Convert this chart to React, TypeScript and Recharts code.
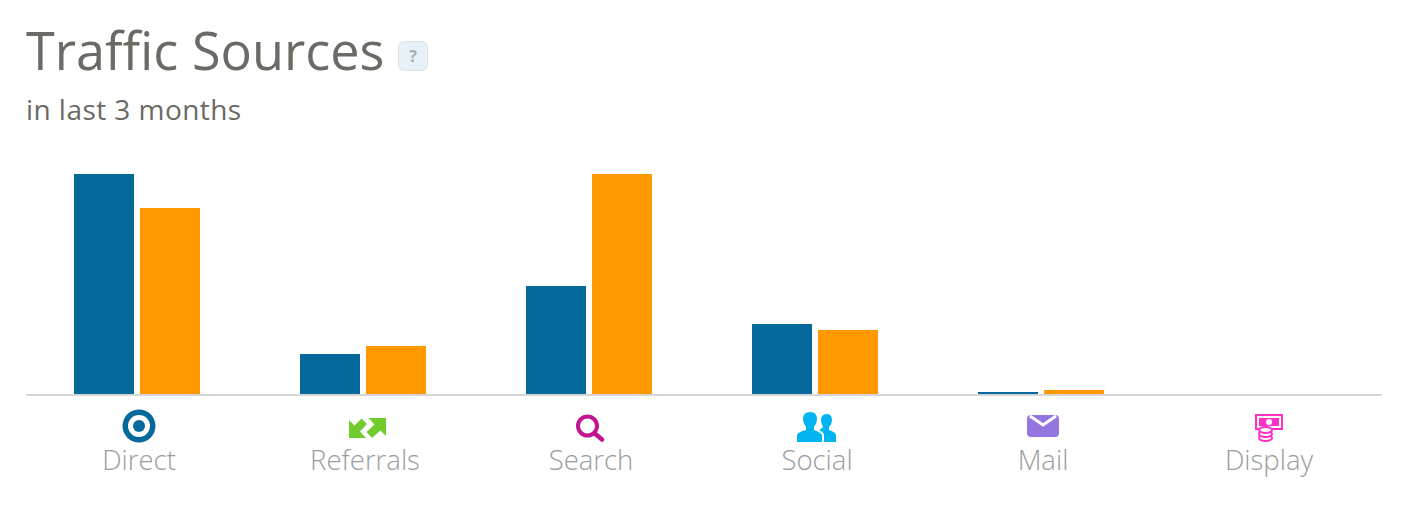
import { BarChart, Bar, XAxis, YAxis, Rectangle } from 'recharts';

const CATEGORIES = ['Direct', 'Referrals', 'Search', 'Social', 'Mail', 'Display'];
const BLUE_VALUES = [100, 18.6, 49.3, 32.1, 1.4, 0];
const ORANGE_VALUES = [84.6, 22.2, 100, 29.4, 2.3, 0];

const data = CATEGORIES.map((name, i) => ({
  name,
  blue: BLUE_VALUES[i],
  orange: ORANGE_VALUES[i],
}));

// little glyphs above the labels, drawn around the tick centre
const Icon = ({ name }: { name: string }) => {
  if (name === 'Direct') {
    return (
      <g>
        <circle cx={0} cy={31} r={16.5} fill="#056a9b" />
        <circle cx={0} cy={31} r={11} fill="#fff" />
        <circle cx={0} cy={31} r={6} fill="#056a9b" />
      </g>
    );
  }
  if (name === 'Referrals') {
    return (
      <g fill="#72cc2e">
        <path d="M-16 43 L-16 25 L-10.5 30.5 L-3.5 23.5 L2 29 L-5 36.5 L1 43 Z" />
        <path d="M21 23 L21 41 L15.5 35.5 L7 43 L1.5 37 L9.5 29.5 L3.5 23 Z" />
      </g>
    );
  }
  if (name === 'Search') {
    return (
      <g fill="none" stroke="#c0168f">
        <circle cx={-3.5} cy={31} r={9.5} strokeWidth={4} />
        <path d="M4.5 39 L11 44.5" strokeWidth={4.5} strokeLinecap="round" />
      </g>
    );
  }
  if (name === 'Social') {
    return (
      <g fill="#00b4f0">
        <path d="M-20 47 L-20 40 Q-19 37 -11 35 L-11 32 Q-14 28 -14 24 Q-14 17 -7 17 Q0 17 0 24 Q0 28 -3 32 L-3 35 Q3 37 5 40 L5 47 Z" />
        <path d="M7 47 L7 39 Q5 36 2 35 Q4 34 6 32 Q4 28 4 25 Q4 19 10 19 Q15 19 15 25 Q15 29 12 32 L12 35 Q18 37 19 40 L19 47 Z" />
      </g>
    );
  }
  if (name === 'Mail') {
    return (
      <g>
        <rect x={-16} y={20} width={32} height={22} rx={4} fill="#9575e0" />
        <path d="M-13 21 L0 30 L13 21" fill="none" stroke="#fff" strokeWidth={3} />
      </g>
    );
  }
  return (
    <g>
      <rect x={-13} y={20} width={26} height={14} fill="#fff" stroke="#ff2fc8" strokeWidth={2} />
      <rect x={-10} y={23} width={20} height={8} fill="#ff2fc8" />
      <circle cx={0} cy={27} r={3} fill="#fff" />
      <ellipse cx={-3.5} cy={43} rx={6.5} ry={3} fill="#fff" stroke="#ff2fc8" strokeWidth={2} />
      <ellipse cx={-3.5} cy={39} rx={6.5} ry={3} fill="#fff" stroke="#ff2fc8" strokeWidth={2} />
      <ellipse cx={-3.5} cy={35} rx={6.5} ry={3} fill="#fff" stroke="#ff2fc8" strokeWidth={2} />
    </g>
  );
};

const CategoryTick = ({ x, y, payload }: any) => (
  <g transform={`translate(${x},${y - 8})`}>
    <Icon name={payload.value} />
    <text
      x={0}
      y={75}
      textAnchor="middle"
      fontFamily="'Open Sans', sans-serif"
      fontWeight={300}
      fontSize={27.5}
      fill="#9a9da0"
    >
      {payload.value}
    </text>
  </g>
);

// the bar pairs sit 2px left of the tick centres in the original
const ShiftedBar = (props: any) => <Rectangle {...props} x={props.x - 2} />;

export default function App() {
  return (
    <div
      style={{
        position: 'absolute',
        left: 0,
        top: 0,
        width: 1414,
        height: 528,
        background: '#fff',
        fontFamily: "'Open Sans', sans-serif",
      }}
    >
      <div style={{ position: 'absolute', left: 26, top: 15, fontSize: 52.2, lineHeight: '70px', color: '#6b6a64', whiteSpace: 'nowrap' }}>
        Traffic Sources
      </div>
      <div
        style={{
          position: 'absolute',
          left: 398,
          top: 41,
          width: 30,
          height: 30,
          boxSizing: 'border-box',
          border: '1px solid #dfe3e4',
          borderRadius: 6,
          background: '#e6f1f8',
          color: '#a9adb0',
          fontSize: 16,
          fontWeight: 700,
          lineHeight: '28px',
          textAlign: 'center',
        }}
      >
        ?
      </div>
      <div style={{ position: 'absolute', left: 26, top: 90, fontSize: 28, letterSpacing: 0.45, lineHeight: '38px', color: '#6b6a64', whiteSpace: 'nowrap' }}>
        in last 3 months
      </div>
      <BarChart
        width={1414}
        height={528}
        data={data}
        barSize={60}
        barGap={6}
        margin={{ top: 174, right: 32, bottom: 0, left: 26 }}
        style={{ position: 'absolute', left: 0, top: 0 }}
      >
        <XAxis
          dataKey="name"
          height={133}
          interval={0}
          axisLine={{ stroke: '#d6d6d6', strokeWidth: 2 }}
          tickLine={false}
          tick={<CategoryTick />}
        />
        <YAxis hide domain={[0, 100]} />
        <Bar dataKey="blue" fill="#056a9b" shape={<ShiftedBar />} isAnimationActive={false} />
        <Bar dataKey="orange" fill="#ff9900" shape={<ShiftedBar />} isAnimationActive={false} />
      </BarChart>
    </div>
  );
}
